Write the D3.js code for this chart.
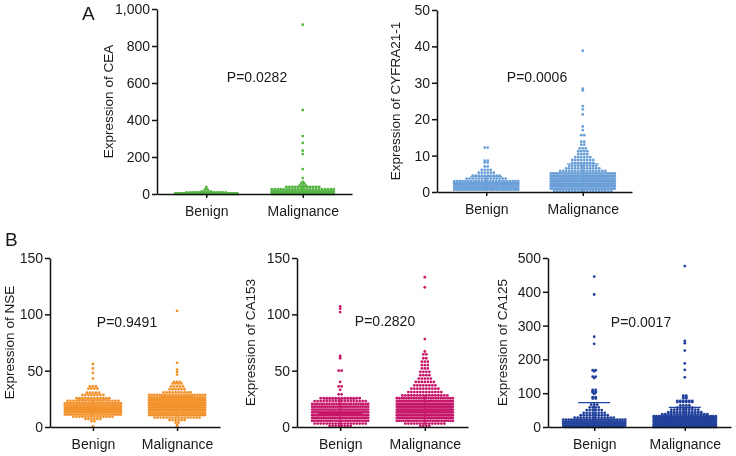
<!DOCTYPE html>
<html>
<head>
<meta charset="utf-8">
<script src="https://cdn.jsdelivr.net/npm/d3@7/dist/d3.min.js"></script>
<style>
	body { margin: 0; background: #fff; }
	svg { will-change: transform; }
	text { font-family: "Liberation Sans", Arial, sans-serif; fill: #1a1a1a; }
	.axis path, .axis line { stroke: #111; stroke-width: 1.5px; }
	.axis text { font-size: 14px; }
</style>
</head>
<body>
<svg width="736" height="456"></svg>
<script>
var groups = ["Benign", "Malignance"];

// rows of the dot plots: [value, number of dots in that row]
var ceaBenign = [[38,1],[30,1],[24,2],[14,4],[8,14],[3,40],[0,30]];
var ceaMalig = [[915,1],[454,1],[313,1],[276,1],[234,1],[216,1],[135,1],[86,1],[65,1],[58,2],[46,3],[38,12],[26,22],[14,36],[5,60],[0,40]];

var cyfraBenign = [[12.2,2],[8.6,2],[8.1,2],[7.0,2],[6.1,4],[5.3,6],[4.5,10],[3.7,14],[3.0,24],[2.4,32],[1.8,36],[1.2,36],[0.6,28]];
var cyfraMalig = [[38.8,1],[28.4,1],[27.9,1],[23.6,1],[22.7,1],[21.3,1],[18.0,1],[17.0,1],[15.6,2],[13.8,2],[13.0,2],[12.0,3],[11.2,4],[10.4,4],[9.6,6],[8.8,8],[8.0,8],[7.2,10],[6.5,12],[5.8,16],[5.1,30],[4.4,40],[3.7,44],[3.0,48],[2.3,48],[1.6,44],[0.9,36],[0.3,20]];

var nseBenign = [[56,1],[52,1],[48,1],[43,1],[36,3],[34,4],[30.5,5],[28.4,8],[25.6,12],[23.2,18],[21,28],[19,34],[17,36],[15,36],[13,32],[11,26],[9,14],[7,6],[5,2],[0.5,1]];
var nseMalig = [[103,1],[57,1],[51,1],[49,1],[46.5,1],[40,3],[38.5,4],[36,5],[33.5,6],[30.8,10],[28.4,22],[26,34],[23.8,40],[21.6,44],[19.4,46],[17.2,46],[15,44],[12.8,40],[10.6,30],[8.4,16],[6.2,6],[4,2],[2,1],[0.5,1]];

var ca153Benign = [[107,1],[105,1],[102,1],[63,1],[61,1],[50,2],[40,1],[36,2],[33,1],[29,2],[25.5,14],[23,18],[20.5,24],[18,30],[15.5,32],[13,34],[10.5,34],[8,32],[5.5,26],[3,18],[1,8]];
var ca153Malig = [[133,1],[124,1],[78,1],[67,1],[64.5,2],[61,2],[58,3],[55,3],[52,3],[49,4],[46,4],[43,5],[40,7],[37,8],[34,10],[31,12],[28,16],[25.5,24],[23,36],[20.5,44],[18,48],[15.5,50],[13,48],[10.5,44],[8,36],[5.5,26],[3,14],[1,4]];

var ca125Benign = [[445,1],[392,1],[267,1],[246,1],[168,2],[165,1],[149,2],[145,1],[110,2],[106,2],[102,2],[98,1],[88,2],[84,2],[66,3],[58,4],[50,6],[42,8],[35,10],[28,14],[22,24],[16,34],[10,40],[4,40],[0,20]];
var ca125Malig = [[476,1],[255,1],[248,1],[226,1],[188,1],[169,1],[147,1],[93,2],[89,2],[85,2],[77,6],[74,6],[64,4],[57,6],[51,10],[44,12],[38,16],[32,26],[26,40],[20,48],[14,52],[8,56],[3,56],[0,30]];

// mean and SD per group (Benign, Malignance)
var ceaMean = [4, 12], ceaSd = [6, 28];
var cyfraMean = [2.4, 3.8], cyfraSd = [1.8, 3.9];
var nseMean = [17, 18], nseSd = [7, 9];
var ca153Mean = [12, 15], ca153Sd = [13, 13];
var ca125Mean = [22, 20], ca125Sd = [50, 38];

var pValues = ["P=0.0282", "P=0.0006", "P=0.9491", "P=0.2820", "P=0.0017"];

var svg = d3.select("svg");

var panels = [
	{name: "CEA", rows: [ceaBenign, ceaMalig], mean: ceaMean, sd: ceaSd, max: 1000, ticks: d3.range(0, 1001, 200), fmt: ",",
	 color: "#58b546", left: 157, right: 352, top: 9, bottom: 194, titleX: 108, half: 31, p: pValues[0], px: 257, py: 82},
	{name: "CYFRA21-1", rows: [cyfraBenign, cyfraMalig], mean: cyfraMean, sd: cyfraSd, max: 50, ticks: d3.range(0, 51, 10), fmt: "d",
	 color: "#6a9fd7", left: 437, right: 632, top: 10, bottom: 192, titleX: 395, half: 32, p: pValues[1], px: 537, py: 82},
	{name: "NSE", rows: [nseBenign, nseMalig], mean: nseMean, sd: nseSd, max: 150, ticks: [0, 50, 100, 150], fmt: "d",
	 color: "#f2922b", left: 50, right: 220, top: 258, bottom: 427, titleX: 9, half: 28, p: pValues[2], px: 127, py: 327},
	{name: "CA153", rows: [ca153Benign, ca153Malig], mean: ca153Mean, sd: ca153Sd, max: 150, ticks: [0, 50, 100, 150], fmt: "d",
	 color: "#c6176a", left: 297, right: 468, top: 258, bottom: 427, titleX: 250, half: 28, p: pValues[3], px: 385, py: 326},
	{name: "CA125", rows: [ca125Benign, ca125Malig], mean: ca125Mean, sd: ca125Sd, max: 500, ticks: d3.range(0, 501, 100), fmt: "d",
	 color: "#22419b", left: 548, right: 731, top: 258, bottom: 427, titleX: 502, half: 31, p: pValues[4], px: 641, py: 327}
];

panels.forEach(function(cfg) {
	var x = d3.scalePoint().domain(groups).range([cfg.left, cfg.right]).padding(0.51),
		y = d3.scaleLinear().domain([0, cfg.max]).range([cfg.bottom, cfg.top]);

	var g = svg.append("g");

	// spread each row's dots side by side around the group centre
	var dots = [];
	cfg.rows.forEach(function(rows, gi) {
		rows.forEach(function(r) {
			var n = r[1],
				step = n > 1 ? Math.min(3, 2 * cfg.half / (n - 1)) : 0;
			for (var i = 0; i < n; i++) {
				dots.push({group: groups[gi], value: r[0], off: (i - (n - 1) / 2) * step});
			}
		});
	});

	g.selectAll(".dot")
		.data(dots)
		.enter().append("circle")
		  .attr("class", "dot")
		  .attr("cx", function(d) { return x(d.group) + d.off; })
		  .attr("cy", function(d) { return y(d.value); })
		  .attr("r", 1.4)
		  .attr("fill", cfg.color);

	// mean line and SD bars
	var stats = groups.map(function(grp, i) { return {group: grp, mean: cfg.mean[i], sd: cfg.sd[i]}; });
	var st = g.selectAll(".stat").data(stats).enter().append("g")
		.attr("class", "stat")
		.attr("stroke", cfg.color).attr("stroke-width", 1.3);
	st.append("line")
		.attr("x1", function(d) { return x(d.group) - 22; })
		.attr("x2", function(d) { return x(d.group) + 22; })
		.attr("y1", function(d) { return y(d.mean); })
		.attr("y2", function(d) { return y(d.mean); });
	st.append("line")
		.attr("x1", function(d) { return x(d.group); })
		.attr("x2", function(d) { return x(d.group); })
		.attr("y1", function(d) { return y(Math.max(0, d.mean - d.sd)); })
		.attr("y2", function(d) { return y(d.mean + d.sd); });
	st.append("line")
		.attr("x1", function(d) { return x(d.group) - 16; })
		.attr("x2", function(d) { return x(d.group) + 16; })
		.attr("y1", function(d) { return y(d.mean + d.sd); })
		.attr("y2", function(d) { return y(d.mean + d.sd); });

	g.append("g")
		.attr("class", "axis")
		.attr("transform", "translate(" + cfg.left + ",0)")
		.call(d3.axisLeft(y).tickValues(cfg.ticks).tickFormat(d3.format(cfg.fmt)).tickSize(5).tickPadding(2).tickSizeOuter(0));

	g.append("g")
		.attr("class", "axis")
		.attr("transform", "translate(0," + cfg.bottom + ")")
		.call(d3.axisBottom(x).tickSize(4).tickPadding(8).tickSizeOuter(0));

	g.selectAll(".axis text").attr("fill", "#1a1a1a");

	g.append("text")
		.attr("transform", "translate(" + cfg.titleX + "," + (cfg.top + cfg.bottom) / 2 + ") rotate(-90)")
		.attr("text-anchor", "middle")
		.attr("dominant-baseline", "central")
		.style("font-size", "13.5px")
		.text("Expression of " + cfg.name);

	g.append("text")
		.attr("x", cfg.px)
		.attr("y", cfg.py)
		.attr("text-anchor", "middle")
		.style("font-size", "14px")
		.text(cfg.p);
});

svg.append("text").attr("x", 82).attr("y", 20).style("font-size", "19px").text("A");
svg.append("text").attr("x", 5).attr("y", 246).style("font-size", "19px").text("B");
</script>
</body>
</html>
